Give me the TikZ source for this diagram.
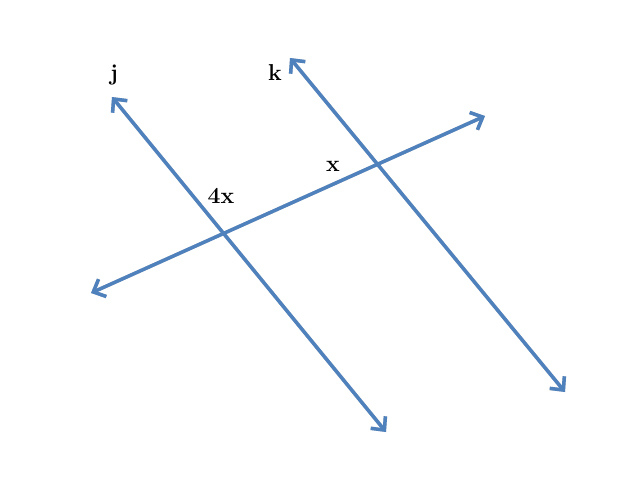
\documentclass[tikz,border=0pt]{standalone}
\usetikzlibrary{arrows.meta}
\definecolor{lineblue}{RGB}{79,129,189}
\definecolor{shade}{RGB}{200,200,200}
\tikzset{
	ray/.style={draw=lineblue, line width=3.5pt, {Straight Barb[length=10pt,width=19pt]}-{Straight Barb[length=10pt,width=19pt]}},
	shadowray/.style={ray, draw=shade, shift={(1.5,1.5)}},
	lbl/.style={font=\fontsize{23}{23}\selectfont\bfseries, inner sep=0pt}
}
\begin{document}
\begin{tikzpicture}[x=1pt, y=-1pt]
		\useasboundingbox (0,0) rectangle (621,480);
		\coordinate (jtop) at (112,97);
		\coordinate (jbot) at (386,432);
		\coordinate (ktop) at (290,58);
		\coordinate (kbot) at (565,392);
		\coordinate (tleft) at (91,293);
		\coordinate (tright) at (485,116);
		% soft shadows
		\draw[shadowray] (jtop) -- (jbot);
		\draw[shadowray] (ktop) -- (kbot);
		\draw[shadowray] (tleft) -- (tright);
		\draw[ray] (jtop) -- (jbot);
		\draw[ray] (ktop) -- (kbot);
		\draw[ray] (tleft) -- (tright);
		\node[lbl] (j) at (114,75) {j};
		\node[lbl] (k) at (275,73) {k};
		\node[lbl] (fourx) at (221,196) {4x};
		\node[lbl] (x) at (333,166) {x};
	\end{tikzpicture}
\end{document}
